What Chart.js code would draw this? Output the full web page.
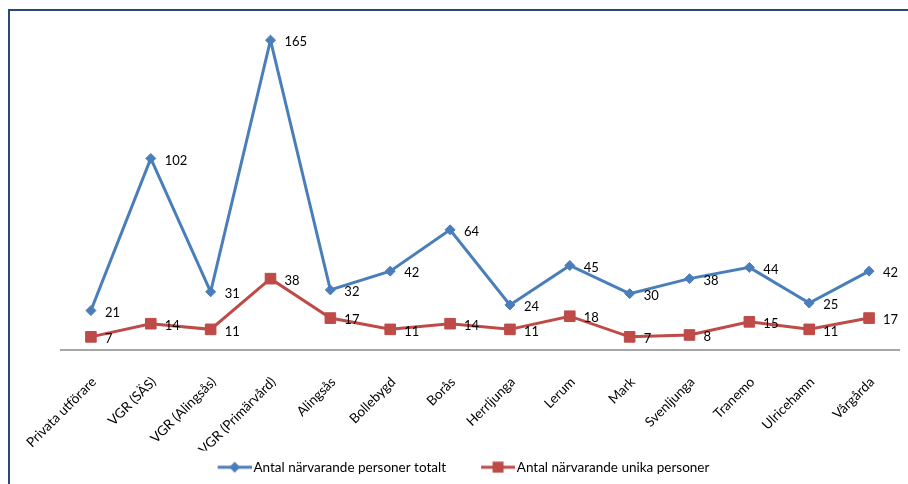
<!DOCTYPE html>
<html><head><meta charset="utf-8">
<script src="https://cdn.jsdelivr.net/npm/chart.js@4"></script>
<style>
html,body{margin:0;padding:0;background:#fff;}
#wrap{position:relative;width:908px;height:484px;overflow:hidden;}
#frame{position:absolute;left:8px;top:9px;width:920px;height:500px;border-top:2px solid #2a4876;border-left:2px solid #2a4876;}
canvas{position:absolute;left:0;top:0;}
</style></head><body>
<div id="wrap"><div id="frame"></div><canvas id="c" width="908" height="484"></canvas></div>
<script>
const categories = ['Privata utförare','VGR (SÄS)','VGR (Alingsås)','VGR (Primärvård)','Alingsås','Bollebygd','Borås','Herrljunga','Lerum','Mark','Svenljunga','Tranemo','Ulricehamn','Vårgårda'];
const totalVisitors = [21,102,31,165,32,42,64,24,45,30,38,44,25,42];
const uniqueVisitors = [7,14,11,38,17,11,14,11,18,7,8,15,11,17];
const seriesNames = ['Antal närvarande personer totalt','Antal närvarande unika personer'];
const seriesColors = ['#4A7EBB','#BE4B48'];
const FONT = 'Lato';
const LEG_BOX = 54;

function legendIcon(color, style){
  const c=document.createElement('canvas'); c.width=LEG_BOX+10; c.height=12;
  const g=c.getContext('2d');
  const x0=c.width-34;
  g.strokeStyle=color; g.lineWidth=3;
  g.beginPath(); g.moveTo(x0,6); g.lineTo(x0+34,6); g.stroke();
  g.fillStyle=color;
  if(style==='diamond'){ g.beginPath(); g.moveTo(x0+17,0.5); g.lineTo(x0+22.5,6); g.lineTo(x0+17,11.5); g.lineTo(x0+11.5,6); g.closePath(); g.fill(); }
  else { g.fillRect(x0+11.5,0.5,11,11); }
  return c;
}
const icons=[legendIcon(seriesColors[0],'diamond'),legendIcon(seriesColors[1],'square')];

const valueLabels = {
  id:'valueLabels',
  afterDatasetsDraw(chart){
    const ctx=chart.ctx; ctx.save();
    ctx.font='13px '+FONT; ctx.fillStyle='#000'; ctx.textBaseline='middle'; ctx.textAlign='left';
    chart.data.datasets.forEach((ds,i)=>{
      chart.getDatasetMeta(i).data.forEach((pt,j)=>{ ctx.fillText(String(ds.data[j]), pt.x+14, pt.y+2); });
    });
    ctx.restore();
  }
};

new Chart(document.getElementById('c'),{
  type:'line',
  data:{
    labels:categories,
    datasets:[
      {label:seriesNames[0],data:totalVisitors,borderColor:seriesColors[0],backgroundColor:seriesColors[0],borderWidth:3,
       pointStyle:'rectRot',pointRadius:5,pointBorderWidth:1,pointBackgroundColor:seriesColors[0],pointBorderColor:seriesColors[0],tension:0},
      {label:seriesNames[1],data:uniqueVisitors,borderColor:seriesColors[1],backgroundColor:seriesColors[1],borderWidth:3,
       pointStyle:'rect',pointRadius:7.5,pointBorderWidth:1,pointBackgroundColor:seriesColors[1],pointBorderColor:seriesColors[1],tension:0}
    ]
  },
  options:{
    responsive:false,animation:false,devicePixelRatio:1,
    layout:{padding:{left:3,right:9,top:12,bottom:0}},
    scales:{
      x:{offset:true,grid:{display:false},border:{display:true,color:'#A6A6A6',width:2},
         ticks:{color:'#000',font:{family:FONT,size:13.5},minRotation:45,maxRotation:45,autoSkip:false,padding:16,labelOffset:3},
         afterFit(s){s.height=100.5;}},
      y:{display:true,min:0,max:180,grid:{display:false},border:{display:false},ticks:{display:false},
         afterFit(s){s.width=58;}}
    },
    plugins:{
      legend:{position:'bottom',labels:{usePointStyle:true,pointStyleWidth:LEG_BOX,color:'#000',padding:10,font:{family:FONT,size:13.5},
        generateLabels(chart){return chart.data.datasets.map((ds,i)=>({text:ds.label,pointStyle:icons[i],datasetIndex:i,hidden:false,lineWidth:0,fillStyle:ds.borderColor,strokeStyle:ds.borderColor,fontColor:'#000'}));}}},
      tooltip:{enabled:false}
    }
  },
  plugins:[valueLabels]
});
</script>
</body></html>
